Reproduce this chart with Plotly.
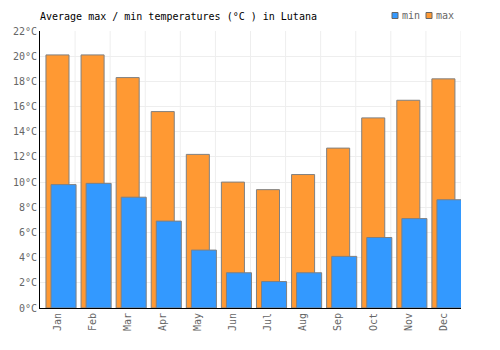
import plotly.graph_objects as go

months = ["Jan", "Feb", "Mar", "Apr", "May", "Jun", "Jul", "Aug", "Sep", "Oct", "Nov", "Dec"]
max_temp = [20.1, 20.1, 18.3, 15.6, 12.2, 10.0, 9.4, 10.6, 12.7, 15.1, 16.5, 18.2]
min_temp = [9.8, 9.9, 8.8, 6.9, 4.6, 2.8, 2.1, 2.8, 4.1, 5.6, 7.1, 8.6]
y_ticks = list(range(0, 23, 2))
y_tick_labels = [f"{v}°C" for v in y_ticks]

FONT = "DejaVu Sans Mono"
MAX_COLOR = "#FF9933"
MIN_COLOR = "#3399FF"
EDGE = "#808080"

fig = go.Figure()
fig.add_trace(go.Bar(
    x=months, y=max_temp, name="max",
    marker=dict(color=MAX_COLOR, line=dict(color=EDGE, width=1)),
    offset=-0.33, width=0.657, showlegend=False,
))
fig.add_trace(go.Bar(
    x=months, y=min_temp, name="min",
    marker=dict(color=MIN_COLOR, line=dict(color=EDGE, width=1)),
    offset=-0.186, width=0.714, showlegend=False,
))

fig.update_layout(
    width=500, height=350,
    margin=dict(l=40, r=39, t=31, b=42),
    barmode="overlay",
    paper_bgcolor="white", plot_bgcolor="white",
    font=dict(family=FONT, size=10, color="#666666"),
    title=dict(text="Average max / min temperatures (°C ) in Lutana",
               x=40/500, xanchor="left", y=1-16/350, yanchor="middle",
               font=dict(family=FONT, size=10, color="#000000")),
    showlegend=False,
    xaxis=dict(type="category", range=[-0.5, 11.5], tickangle=-90,
               showgrid=False, showline=True, linecolor="#000000", linewidth=1,
               ticks="", tickfont=dict(family=FONT, size=10, color="#666666")),
    yaxis=dict(range=[0, 22], tickvals=y_ticks, ticktext=y_tick_labels,
               showgrid=True, gridcolor="#EEEEEE", gridwidth=1,
               showline=True, linecolor="#000000", linewidth=1, zeroline=False,
               ticks="", tickfont=dict(family=FONT, size=10, color="#666666")),
)

# vertical category grid lines at boundaries
for i in range(1, 13):
    fig.add_shape(type="line", xref="x", yref="paper", x0=i - 0.5, x1=i - 0.5, y0=0, y1=1,
                  line=dict(color="#EEEEEE", width=1), layer="below")

# compact legend (min, max) at top right
legend_items = [("min", MIN_COLOR, 392), ("max", MAX_COLOR, 426)]
for name, color, px in legend_items:
    fig.add_shape(type="rect", xref="paper", yref="paper",
                  x0=(px - 40) / 421, x1=(px + 6 - 40) / 421,
                  y0=1 + (31 - 18.5) / 277, y1=1 + (31 - 12.5) / 277,
                  fillcolor=color, line=dict(color="#666666", width=1))
    fig.add_annotation(text=name, xref="paper", yref="paper",
                       x=(px + 8 - 40) / 421, xanchor="left",
                       y=1 + (31 - 15.5) / 277, yanchor="middle", showarrow=False,
                       font=dict(family=FONT, size=10, color="#666666"))

fig.write_html("out.html")
